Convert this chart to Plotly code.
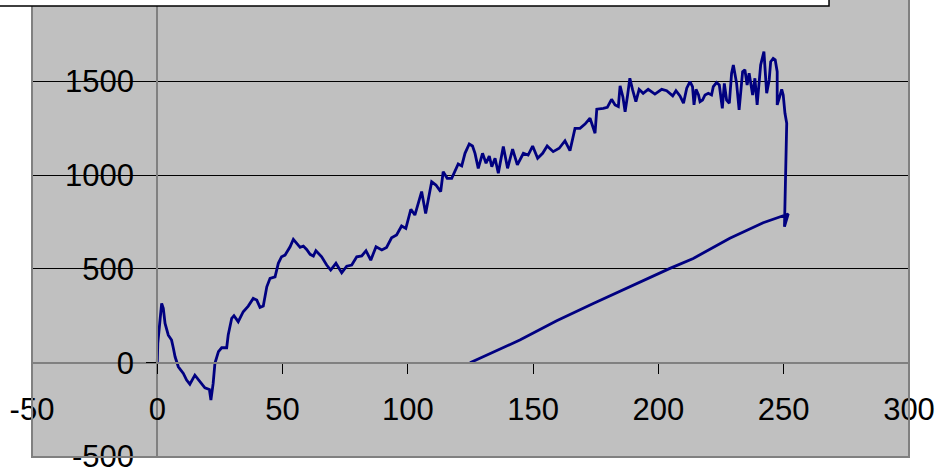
import plotly.graph_objects as go

x_vals = [0, 0.2, 1.1, 1.75, 2.4, 3.1, 4.4, 5.7, 6.4, 7.1, 8.4, 10.4, 11.7, 13, 15, 17, 19, 20.8, 21.4, 22.3,
          23, 24.4, 25.7, 27.7, 28.3, 29.7, 30.6, 32.3, 34.3, 36.3, 38.3, 39.7, 41, 42.3, 43.7, 45, 47, 48.3, 49.6, 51,
          53, 54.3, 55.6, 57, 58.3, 59.6, 61, 62.3, 63.3, 65.6, 67.6, 69.2, 71.3, 73.6, 75.6, 77.6, 79.6, 81.6, 83.3, 85.2,
          87.3, 89.6, 91.5, 93.5, 95.5, 97.5, 99.2, 101.2, 102.8, 105.5, 107.1, 109.5, 111.2, 113.1, 114.1, 115.7, 117.5, 118.8, 120.1, 121.5,
          122.8, 124.5, 125.8, 126.8, 128.1, 129.8, 131.2, 132.5, 133.5, 134.8, 136.1, 138.1, 139.8, 141.8, 143.7, 146.1, 148, 149.8, 151.8, 153.8,
          155.6, 158, 160.4, 162.7, 164.7, 166.7, 168.7, 170.7, 172.7, 174.7, 175.4, 178, 179.6, 181.3, 182.7, 184, 184.7, 185.8, 186.7, 187.7,
          188.6, 189.7, 191, 192.3, 193.9, 195.9, 198.6, 201.3, 203.3, 205.7, 207, 208.6, 210, 211.3, 212.6, 213.6, 214.2, 215, 216, 216.6,
          217.6, 218.6, 219.9, 221.2, 221.9, 223.2, 224.3, 225.5, 226.3, 227.2, 228.3, 229.2, 229.9, 231.2, 232.2, 233.6, 234.5, 235.4, 236.2, 237.6,
          238.5, 239.4, 240.8, 242.1, 243.2, 244.2, 244.8, 245.8, 246.6, 247.4, 247.4, 248.2, 249.2, 249.8, 250.5, 251.2, 250.9, 250.5, 250.3, 251.8,
          247.2, 241.8, 228.5, 213.9, 204.6, 191.3, 174, 159.4, 144.7, 124.8]

y_vals = [0, 105, 228, 316, 290, 210, 147, 121, 79, 32, -21, -57, -92, -114, -66, -101, -133, -142, -199, -110,
          -3, 59, 80, 80, 148, 237, 251, 219, 272, 302, 343, 334, 295, 302, 405, 450, 458, 530, 565, 574,
          618, 658, 636, 615, 622, 604, 578, 569, 597, 565, 521, 494, 530, 480, 515, 521, 565, 569, 597, 547,
          618, 601, 615, 666, 681, 729, 716, 818, 787, 912, 796, 965, 947, 912, 1018, 983, 983, 1018, 1059, 1049,
          1116, 1166, 1155, 1116, 1036, 1116, 1063, 1102, 1045, 1090, 1010, 1152, 1036, 1138, 1054, 1116, 1107, 1155, 1090, 1116,
          1155, 1125, 1143, 1183, 1130, 1249, 1249, 1272, 1303, 1223, 1351, 1356, 1361, 1404, 1374, 1365, 1475, 1418, 1338, 1427,
          1516, 1454, 1391, 1457, 1436, 1457, 1432, 1457, 1450, 1422, 1450, 1422, 1383, 1463, 1498, 1471, 1374, 1457, 1427, 1391,
          1400, 1427, 1436, 1427, 1471, 1493, 1480, 1356, 1489, 1400, 1383, 1543, 1587, 1489, 1347, 1551, 1561, 1480, 1543, 1427,
          1516, 1374, 1587, 1658, 1436, 1507, 1604, 1622, 1614, 1551, 1374, 1409, 1457, 1427, 1329, 1276, 1045, 921, 725, 793,
          770, 746, 663, 556, 503, 423, 316, 224, 121, 0]

x_tickvals = [-50, 0, 50, 100, 150, 200, 250, 300]
x_ticktext = ["-50", "0", "50", "100", "150", "200", "250", "300"]
y_tickvals = [-500, 0, 500, 1000, 1500]
y_ticktext = ["-500", "0", "500", "1000", "1500"]

x_range = [-50, 300]
y_range = [-502, 1933]

fig = go.Figure()
fig.add_trace(go.Scatter(x=x_vals, y=y_vals, mode="lines",
                         line=dict(color="#000080", width=2.8), showlegend=False, hoverinfo="skip"))

font = dict(family="Liberation Sans, Arial, sans-serif", size=31, color="black")

fig.update_layout(
    width=941, height=471,
    margin=dict(l=32, r=32, t=0, b=14),
    paper_bgcolor="white", plot_bgcolor="#C0C0C0",
    font=font,
    xaxis=dict(range=x_range, tickvals=x_tickvals, ticktext=x_ticktext, showgrid=False, zeroline=False,
               showline=True, linecolor="#808080", linewidth=2,
               ticks="outside", ticklen=10, tickcolor="black", tickwidth=1,
               anchor="free", position=(0 - y_range[0]) / (y_range[1] - y_range[0]),
               tickfont=font, ticklabelstandoff=9, automargin=False, ticklabeloverflow="allow"),
    yaxis=dict(range=y_range, tickvals=y_tickvals, ticktext=y_ticktext,
               showgrid=True, gridcolor="black", gridwidth=1,
               zeroline=False, showline=True, linecolor="#808080", linewidth=2,
               ticks="outside", ticklen=10, tickcolor="black", tickwidth=1,
               anchor="free", position=(0 - x_range[0]) / (x_range[1] - x_range[0]),
               tickfont=font, ticklabelstandoff=6, automargin=False, ticklabeloverflow="allow"),
    shapes=[
        dict(type="rect", xref="paper", yref="paper", x0=0, x1=1, y0=0, y1=1.05,
             line=dict(color="#808080", width=2), fillcolor="rgba(0,0,0,0)", layer="above"),
        dict(type="rect", xref="paper", yref="paper", x0=-0.1, x1=0.9088, y0=0.9869, y1=1.1,
             line=dict(color="black", width=1.5), fillcolor="white", layer="above"),
    ],
)

fig.write_html("out.html", config={"displayModeBar": False},
               post_script="document.body.style.margin='0px';document.body.style.overflow='hidden';")
